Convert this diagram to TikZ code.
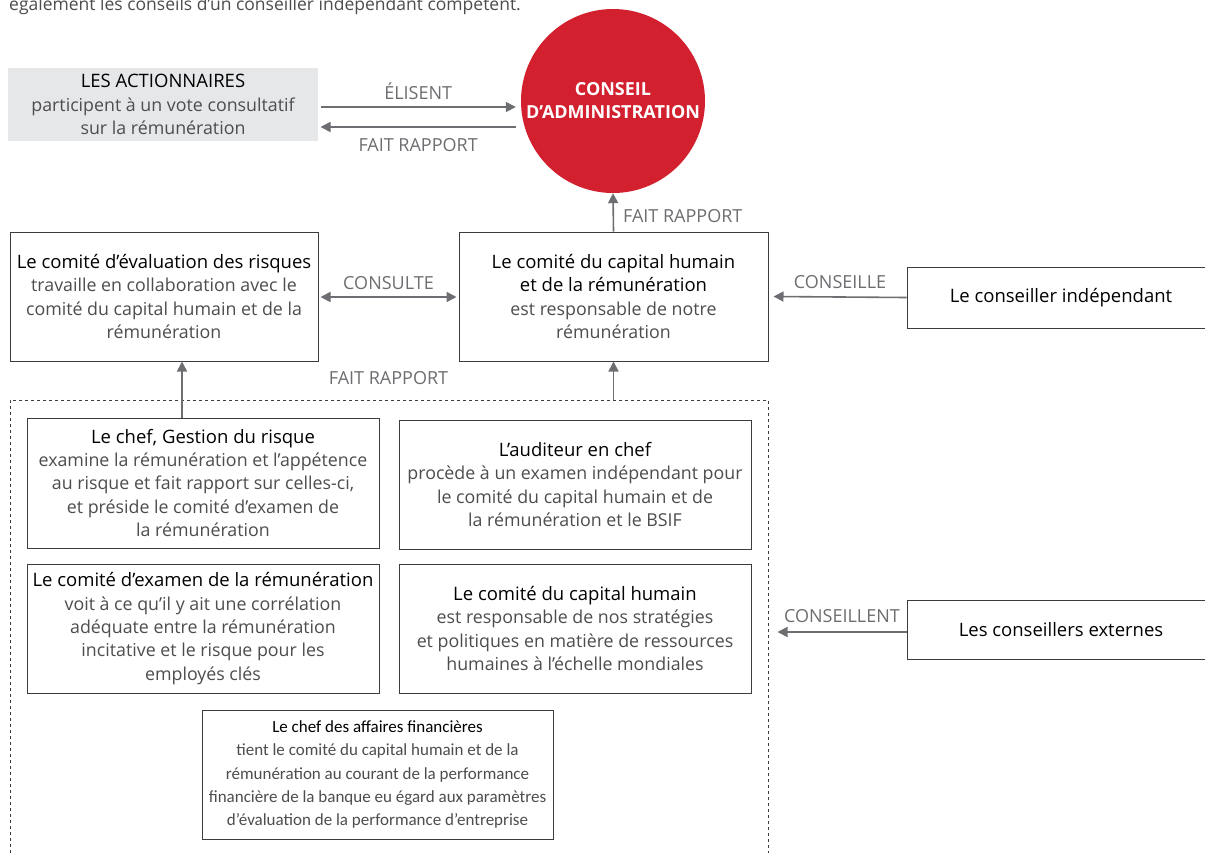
\documentclass[tikz,border=0pt]{standalone}
\usepackage{fontspec}
\setmainfont{Open Sans}
\newfontfamily\condfont{Carlito}
\usetikzlibrary{arrows.meta,calc}
\definecolor{boxc}{HTML}{3C3C3C}
\definecolor{lblc}{HTML}{6D6E71}
\definecolor{txtc}{HTML}{4D4D4F}
\definecolor{redc}{HTML}{D2202F}
\definecolor{grayf}{HTML}{E6E7E8}
\tikzset{
  box/.style={draw=boxc, line width=1pt, inner sep=0pt, align=center, text=txtc,
    font=\fontsize{17.8}{23.3}\selectfont},
  cbox/.style={box, font=\condfont\fontsize{17}{23.3}\selectfont},
  arr/.style={draw=lblc, line width=1.6pt, -{Triangle[length=10pt,width=10pt]}},
  darr/.style={draw=lblc, line width=1.6pt, {Triangle[length=10pt,width=10pt]}-{Triangle[length=10pt,width=10pt]}},
  lbl/.style={text=lblc, font=\fontsize{18}{20}\selectfont, inner sep=0pt},
}
\newcommand{\hd}[1]{\textcolor{black}{\fontsize{18.5}{23.3}\selectfont #1}}
\newcommand{\hdc}[1]{\textcolor{black}{#1}}
\begin{document}
\begin{tikzpicture}[x=1pt,y=-1pt]
\useasboundingbox (0,0) rectangle (1205,852);
\clip (0,0) rectangle (1205,852);
\fill[white] (0,0) rectangle (1205,852);

\node[anchor=base west, text=txtc, font=\fontsize{17.5}{20}\selectfont, inner sep=0pt] (top) at (9,10)
  {également les conseils d’un conseiller indépendant compétent.};

\node[box, draw=none, fill=grayf, minimum width=310, minimum height=73] (act) at (163,104.5)
  {\hd{LES ACTIONNAIRES}\\participent à un vote consultatif\\sur la rémunération};
\node[circle, fill=redc, minimum size=184, inner sep=0pt, align=center, text=white,
  font=\bfseries\fontsize{18}{23}\selectfont] (ca) at (613,101) {CONSEIL\\D’ADMINISTRATION};

\node[box, minimum width=308, minimum height=129] (risk) at (164,296.5)
  {\hd{Le comité d’évaluation des risques}\\travaille en collaboration avec le\\comité du capital humain et de la\\rémunération};
\node[box, minimum width=309, minimum height=129] (hcc) at (613.5,296.5)
  {\hd{Le comité du capital humain}\\\hd{et de la rémunération}\\est responsable de notre\\rémunération};
\node[box, minimum width=308, minimum height=61] (ind) at (1061,297.5)
  {\hd{Le conseiller indépendant}};

\node[draw=boxc, dashed, line width=1pt, minimum width=758, minimum height=500, inner sep=0pt] (grp) at (389,650) {};

\node[box, minimum width=352, minimum height=130] (chefr) at (203,483)
  {\hd{Le chef, Gestion du risque}\\examine la rémunération et l’appétence\\au risque et fait rapport sur celles-ci,\\et préside le comité d’examen de\\la rémunération};
\node[box, minimum width=352, minimum height=129] (aud) at (575,484.5)
  {\hd{L’auditeur en chef}\\procède à un examen indépendant pour\\le comité du capital humain et de\\la rémunération et le BSIF};
\node[box, minimum width=352, minimum height=129] (exam) at (203,628.5)
  {\hd{Le comité d’examen de la rémunération}\\voit à ce qu’il y ait une corrélation\\adéquate entre la rémunération\\incitative et le risque pour les\\employés clés};
\node[box, minimum width=352, minimum height=129] (chc) at (575,628.5)
  {\hd{Le comité du capital humain}\\est responsable de nos stratégies\\et politiques en matière de ressources\\humaines à l’échelle mondiales};
\node[box, minimum width=308, minimum height=59] (ext) at (1061,629.5)
  {\hd{Les conseillers externes}};
\node[cbox, minimum width=351, minimum height=129] (cfo) at (377.5,774.5)
  {\hdc{Le chef des affaires financières}\\tient le comité du capital humain et de la\\rémunération au courant de la performance\\financière de la banque eu égard aux paramètres\\d’évaluation de la performance d’entreprise};

% connectors
\draw[arr] ($(act.east)+(2,2.5)$) -- node[lbl, yshift=16pt] {ÉLISENT} ($(ca.west)+(-5,6)$);
\draw[arr] ($(ca.west)+(-5,26)$) -- node[lbl, yshift=-18pt] {FAIT RAPPORT} ($(act.east)+(2,22.5)$);
\draw[arr] (hcc.north) -- node[lbl, pos=0.4, right=9pt] {FAIT RAPPORT} (ca.south);
\draw[darr] ($(risk.east)+(2,0.5)$) -- node[lbl, yshift=14pt] {CONSULTE} ($(hcc.west)+(-2,0.5)$);
\draw[arr] (ind.west) -- node[lbl, yshift=14.5pt] {CONSEILLE} ($(hcc.east)+(5,0)$);
\draw[arr] ([xshift=-21]chefr.north) -- ([xshift=-21]chefr.north |- risk.south);
\draw[arr] (grp.north -| hcc.south) -- (hcc.south);
\node[lbl] (fr) at ($($(risk.south east)!0.5!(hcc.south west)$)+(0,17)$) {FAIT RAPPORT};
\draw[arr] ($(ext.west)+(0,2.5)$) -- node[lbl, yshift=15.5pt] {CONSEILLENT} ($(grp.east |- ext.west)+(9,2.5)$);
\end{tikzpicture}
\end{document}
